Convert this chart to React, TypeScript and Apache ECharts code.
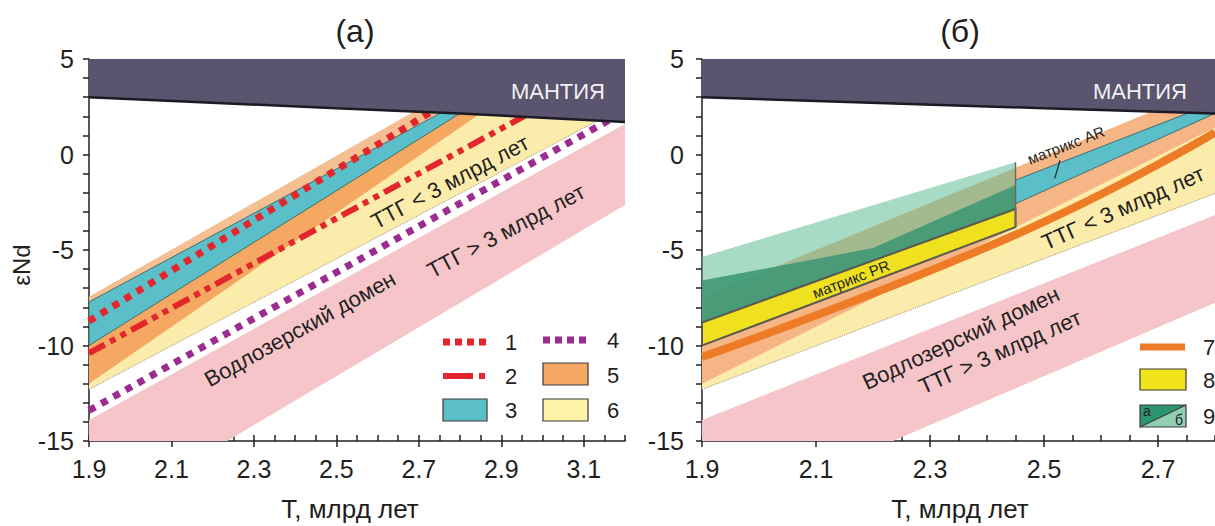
import React, { useEffect, useRef } from 'react';
import * as echarts from 'echarts';

const FONT = '"Liberation Sans", Arial, sans-serif';
const INK = '#231f20';

// ---- axes ----
const xLabelsA = [1.9, 2.1, 2.3, 2.5, 2.7, 2.9, 3.1];
const xLabelsB = [1.9, 2.1, 2.3, 2.5, 2.7];
const yLabels = [-15, -10, -5, 0, 5];
const xMaxA = 3.2;
const xMaxB = 2.8;

// ---- fields (T, eNd) ----
const mantleLine = [[1.9, 3.0], [2.5, 2.42], [2.8, 2.15], [3.2, 1.7]];
const mantleBand = [[1.9, 5], ...mantleLine, [3.2, 5]];
const pinkBand = [[1.9, -13.9], [3.2, 1.6], [3.2, -2.64], [2.235, -15], [1.9, -15]];
const yellowBand6 = [[1.9, -12.3], [3.14, 1.84], [2.8, 2.6], [1.9, -10.0]];
const yellowEdge6 = [[1.9, -12.3], [3.14, 1.84]];
const orangeBand5 = [[1.9, -7.46], [2.8, 3.61], [2.9, 2.9], [1.9, -12.0]];
const peachStrip5 = [[1.9, -7.46], [2.8, 3.61], [2.8, 2.72], [1.9, -7.72]];
const cyanBand3 = [[1.9, -7.72], [2.8, 2.72], [2.85, 2.83], [1.9, -10.0]];
const cyanBand3R = [[2.45, -1.34], [2.8, 2.72], [2.85, 2.83], [2.45, -2.58]];
const line1 = [[1.9, -8.72], [2.76, 2.63]];
const line2 = [[1.9, -10.4], [2.97, 2.18]];
const line4 = [[1.9, -13.4], [3.17, 1.9]];
const line7 = [[1.9, -10.6], [2.45, -4.2], [2.8, 1.15]];
const matrixPR8 = [[1.9, -8.8], [2.45, -2.85], [2.45, -3.8], [1.9, -10.0]];
const field9b = [[1.9, -5.36], [2.45, -0.4], [2.45, -2.85], [1.9, -8.8]];
const field9a = [[1.9, -6.6], [2.2, -4.9], [2.45, -1.6], [2.45, -2.85], [1.9, -8.8]];
const matrixEdge = [[2.45, -0.4], [2.45, -3.8]];
const arLeader = [[2.528, -0.3], [2.519, -1.25]];

const poly = (pts: number[][], xi: number, yi: number, fill: string, stroke?: string, lw?: number, z = 2) => ({
  type: 'custom',
  xAxisIndex: xi,
  yAxisIndex: yi,
  clip: true,
  silent: true,
  z,
  data: [[pts[0][0], pts[0][1]]],
  renderItem: (_p: any, api: any) => ({
    type: 'polygon',
    shape: { points: pts.map((p) => api.coord(p)) },
    style: { fill, stroke: stroke || null, lineWidth: lw || 0 },
  }),
});

const lineS = (data: number[][], xi: number, yi: number, color: string, width: number, dash: any, z = 3, smooth: any = false) => ({
  type: 'line',
  xAxisIndex: xi,
  yAxisIndex: yi,
  data,
  symbol: 'none',
  silent: true,
  smooth,
  z,
  lineStyle: { color, width, type: dash, cap: 'butt' },
});

const mkX = (gi: number, max: number, labels: number[]) => [
  {
    type: 'value', gridIndex: gi, min: 1.9, max, position: 'bottom',
    axisLine: { show: true, onZero: false, lineStyle: { color: INK, width: 1.5 } },
    axisTick: { show: true, inside: false, length: 6, customValues: labels, lineStyle: { color: INK, width: 1.5 } },
    axisLabel: { customValues: labels, formatter: (v: number) => v.toFixed(1), fontSize: 25, color: INK, fontFamily: FONT, margin: 15 },
    splitLine: { show: false },
  },
  {
    type: 'value', gridIndex: gi, min: 1.9, max, interval: 0.05, position: 'bottom',
    axisLine: { show: false, onZero: false },
    axisTick: { show: true, inside: true, length: 6, lineStyle: { color: INK, width: 1.5 } },
    axisLabel: { show: false },
    splitLine: { show: false },
  },
];

const mkY = (gi: number, margin: number) => ({
  type: 'value', gridIndex: gi, min: -15, max: 5, interval: 5, position: 'left',
  axisLine: { show: true, onZero: false, lineStyle: { color: INK, width: 1.5 } },
  axisTick: { show: true, inside: false, length: 6, lineStyle: { color: INK, width: 1.5 } },
  minorTick: { show: true, splitNumber: 5, length: 6, lineStyle: { color: INK, width: 1.5 } },
  axisLabel: { customValues: yLabels, fontSize: 25, color: INK, fontFamily: FONT, margin },
  splitLine: { show: false },
});

const txt = (text: string, x: number, y: number, size: number, rotDeg = 0, fill = INK, align = 'center') => ({
  type: 'text', x, y, rotation: (rotDeg * Math.PI) / 180, z: 100, silent: true,
  style: { text, fontSize: size, fontFamily: FONT, fill, align, verticalAlign: 'middle' },
});

const gLine = (x1: number, y1: number, x2: number, y2: number, stroke: string, lw: number, dash?: number[]) => ({
  type: 'line', z: 100, silent: true,
  shape: { x1, y1, x2, y2 },
  style: { stroke, lineWidth: lw, lineDash: dash || null, lineCap: 'butt' },
});

const gRect = (x: number, y: number, w: number, h: number, fill: string) => ({
  type: 'rect', z: 100, silent: true,
  shape: { x, y, width: w, height: h },
  style: { fill, stroke: '#3a3a3a', lineWidth: 1.2 },
});

const C = {
  mantle: '#5a546e',
  pink: '#f5c5c9',
  yellow: '#fcecac',
  orange: '#f4a862',
  peach: '#f4c093',
  peachR: '#f5b585',
  cyan: '#5bbfca',
  red: '#e3262c',
  purple: '#9a2d8f',
  orange7: '#ee7b26',
  yellow8: '#efe11e',
  green9a: 'rgba(62,150,116,0.88)',
  green9b: 'rgba(95,190,150,0.55)',
};

const option: any = {
  animation: false,
  backgroundColor: '#ffffff',
  grid: [
    { left: 89, top: 59, width: 536, height: 382 },
    { left: 702, top: 59, width: 513, height: 382 },
  ],
  xAxis: [...mkX(0, xMaxA, xLabelsA), ...mkX(1, xMaxB, xLabelsB)],
  yAxis: [mkY(0, 15), mkY(1, 18)],
  series: [
    // ---- left panel ----
    poly(pinkBand, 0, 0, C.pink),
    poly(yellowBand6, 0, 0, C.yellow),
    lineS(yellowEdge6, 0, 0, '#9a927a', 1, 'dotted', 2),
    poly(orangeBand5, 0, 0, C.orange),
    poly(peachStrip5, 0, 0, C.peach),
    poly(cyanBand3, 0, 0, C.cyan, '#3f6f6c', 1),
    lineS(line2, 0, 0, C.red, 6, [18, 6, 6, 6, 6, 6]),
    lineS(line1, 0, 0, C.red, 7, [7, 7]),
    lineS(line4, 0, 0, C.purple, 7, [7, 7]),
    poly(mantleBand, 0, 0, C.mantle, undefined, 0, 4),
    lineS(mantleLine, 0, 0, '#1c1a24', 2.5, 'solid', 5),
    // ---- right panel ----
    poly(pinkBand, 2, 1, C.pink),
    poly(yellowBand6, 2, 1, C.yellow),
    lineS(yellowEdge6, 2, 1, '#9a927a', 1, 'dotted', 2),
    poly(orangeBand5, 2, 1, C.peachR),
    poly(cyanBand3R, 2, 1, C.cyan, '#3f6f6c', 1),
    lineS(line7, 2, 1, C.orange7, 8, 'solid', 3, 0.5),
    poly(field9b, 2, 1, C.green9b),
    poly(field9a, 2, 1, C.green9a),
    poly(matrixPR8, 2, 1, C.yellow8, '#5a5850', 2),
    lineS(matrixEdge, 2, 1, '#6b6b60', 1.5, 'solid'),
    lineS(arLeader, 2, 1, '#2a2a2a', 1.2, 'solid', 6),
    poly(mantleBand, 2, 1, C.mantle, undefined, 0, 4),
    lineS(mantleLine, 2, 1, '#1c1a24', 2.5, 'solid', 5),
  ],
  graphic: [
    txt('(а)', 355, 31, 32),
    txt('(б)', 960, 31, 32),
    txt('εNd', 21, 265, 24, 90),
    txt('T, млрд лет', 350, 509, 26),
    txt('T, млрд лет', 960, 509, 26),
    txt('МАНТИЯ', 558, 91, 22, 0, '#f2f2f2'),
    txt('МАНТИЯ', 1140, 91, 22, 0, '#f2f2f2'),
    txt('ТТГ < 3 млрд лет', 450, 182, 22, 28),
    txt('ТТГ > 3 млрд лет', 506, 231, 22, 28),
    txt('Водлозерский домен', 300, 329, 22, 29),
    txt('ТТГ < 3 млрд лет', 1123, 208, 22, 24),
    txt('Водлозерский домен', 961, 338, 22, 25),
    txt('ТТГ > 3 млрд лет', 1000, 352, 22, 24),
    txt('матрикс AR', 1066, 145, 15, 21),
    txt('матрикс PR', 851, 279, 15, 21),
    // legend left
    gLine(443, 342, 487, 342, C.red, 7, [7, 5]),
    txt('1', 511, 342, 22),
    gLine(443, 376, 487, 376, C.red, 6, [30, 6, 6, 10]),
    txt('2', 511, 376, 22),
    gRect(443, 399, 44, 22, C.cyan),
    txt('3', 511, 410, 22),
    gLine(543, 340, 587, 340, C.purple, 7, [7, 5]),
    txt('4', 613, 340, 22),
    gRect(543, 363, 45, 22, C.orange),
    txt('5', 613, 375, 22),
    gRect(543, 399, 45, 22, '#fdf2a6'),
    txt('6', 613, 410, 22),
    // legend right
    gLine(1140, 347, 1185, 347, C.orange7, 7),
    txt('7', 1203, 347, 22, 0, INK, 'left'),
    gRect(1140, 369, 46, 21, '#f2e41a'),
    txt('8', 1203, 380, 22, 0, INK, 'left'),
    { type: 'polygon', z: 100, silent: true, shape: { points: [[1140, 405], [1186, 405], [1140, 427]] }, style: { fill: '#2d9473' } },
    { type: 'polygon', z: 100, silent: true, shape: { points: [[1186, 405], [1186, 427], [1140, 427]] }, style: { fill: '#8fd0b3' } },
    { type: 'rect', z: 101, silent: true, shape: { x: 1140, y: 405, width: 46, height: 22 }, style: { fill: 'none', stroke: '#3a3a3a', lineWidth: 1.2 } },
    gLine(1140, 427, 1186, 405, '#3a3a3a', 1.2),
    txt('а', 1147, 411, 14, 0, INK),
    txt('б', 1179, 420, 14, 0, INK),
    txt('9', 1203, 416, 22, 0, INK, 'left'),
  ],
};

export default function App() {
  const ref = useRef<HTMLDivElement>(null);
  useEffect(() => {
    const chart = echarts.init(ref.current!, null, { renderer: 'svg' });
    chart.setOption(option);
    return () => chart.dispose();
  }, []);
  return (
    <div
      ref={ref}
      style={{ position: 'absolute', left: 0, top: 0, width: 1215, height: 526, background: '#fff' }}
    />
  );
}
